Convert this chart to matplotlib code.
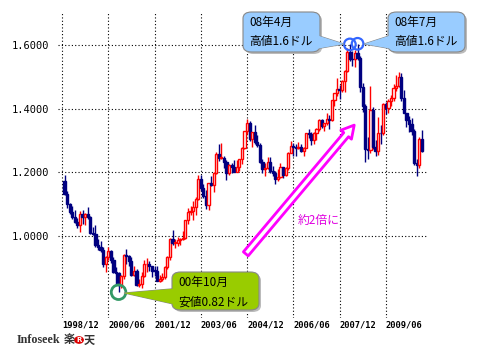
import matplotlib
matplotlib.use("Agg")
import matplotlib.pyplot as plt
from matplotlib.patches import FancyBboxPatch, Polygon, Rectangle
import numpy as np

# monthly EUR/USD, 1999/01 .. 2010/08
opens = [
    1.174, 1.132, 1.099, 1.076, 1.058, 1.043, 1.034, 1.069, 1.058, 1.070, 1.058, 1.010,
    1.006, 0.970, 0.965, 0.957, 0.911, 0.933, 0.952, 0.925, 0.888, 0.883, 0.847, 0.873,
    0.939, 0.938, 0.922, 0.877, 0.889, 0.846, 0.849, 0.875, 0.911, 0.911, 0.904, 0.891,
    0.890, 0.858, 0.866, 0.872, 0.902, 0.934, 0.991, 0.978, 0.979, 0.986, 0.989, 0.993,
    1.049, 1.076, 1.078, 1.091, 1.117, 1.180, 1.150, 1.124, 1.098, 1.165, 1.159, 1.198,
    1.259, 1.245, 1.246, 1.232, 1.198, 1.222, 1.216, 1.202, 1.218, 1.243, 1.277, 1.330,
    1.356, 1.304, 1.326, 1.296, 1.287, 1.232, 1.210, 1.212, 1.233, 1.205, 1.199, 1.179,
    1.184, 1.216, 1.193, 1.212, 1.262, 1.282, 1.279, 1.277, 1.281, 1.268, 1.276, 1.324,
    1.320, 1.302, 1.324, 1.335, 1.366, 1.346, 1.354, 1.368, 1.363, 1.426, 1.449, 1.463,
    1.459, 1.486, 1.520, 1.579, 1.556, 1.555, 1.575, 1.560, 1.467, 1.409, 1.273, 1.269,
    1.397, 1.281, 1.266, 1.325, 1.323, 1.414, 1.403, 1.425, 1.433, 1.464, 1.472, 1.500,
    1.433, 1.386, 1.363, 1.351, 1.330, 1.229, 1.224, 1.305,
]
highs = [
    1.190, 1.142, 1.103, 1.094, 1.082, 1.057, 1.077, 1.083, 1.073, 1.091, 1.062, 1.029,
    1.035, 0.990, 0.984, 0.966, 0.936, 0.966, 0.956, 0.933, 0.903, 0.886, 0.876, 0.944,
    0.959, 0.939, 0.933, 0.904, 0.897, 0.866, 0.887, 0.925, 0.931, 0.921, 0.906, 0.907,
    0.904, 0.877, 0.884, 0.906, 0.938, 0.995, 1.019, 0.989, 0.996, 0.994, 1.015, 1.050,
    1.087, 1.093, 1.109, 1.123, 1.193, 1.193, 1.162, 1.144, 1.167, 1.188, 1.202, 1.263,
    1.290, 1.293, 1.250, 1.240, 1.226, 1.229, 1.239, 1.239, 1.242, 1.279, 1.330, 1.367,
    1.362, 1.327, 1.349, 1.316, 1.293, 1.242, 1.230, 1.249, 1.248, 1.219, 1.203, 1.209,
    1.229, 1.218, 1.217, 1.264, 1.297, 1.293, 1.289, 1.295, 1.289, 1.281, 1.324, 1.336,
    1.328, 1.326, 1.339, 1.368, 1.368, 1.355, 1.385, 1.380, 1.428, 1.450, 1.497, 1.474,
    1.490, 1.522, 1.590, 1.602, 1.581, 1.584, 1.604, 1.567, 1.480, 1.414, 1.310, 1.472,
    1.406, 1.302, 1.374, 1.349, 1.417, 1.421, 1.431, 1.443, 1.478, 1.506, 1.514, 1.512,
    1.458, 1.388, 1.378, 1.370, 1.336, 1.243, 1.310, 1.333,
]
lows = [
    1.128, 1.088, 1.069, 1.053, 1.040, 1.026, 1.012, 1.038, 1.034, 1.053, 1.005, 1.002,
    0.966, 0.957, 0.951, 0.901, 0.888, 0.923, 0.915, 0.882, 0.845, 0.823, 0.836, 0.866,
    0.911, 0.904, 0.874, 0.874, 0.844, 0.840, 0.837, 0.870, 0.888, 0.889, 0.872, 0.873,
    0.857, 0.856, 0.859, 0.865, 0.896, 0.923, 0.972, 0.962, 0.967, 0.970, 0.987, 0.990,
    1.036, 1.067, 1.051, 1.066, 1.114, 1.141, 1.118, 1.084, 1.083, 1.156, 1.138, 1.196,
    1.237, 1.241, 1.213, 1.175, 1.190, 1.198, 1.202, 1.200, 1.204, 1.227, 1.272, 1.319,
    1.298, 1.280, 1.288, 1.280, 1.230, 1.198, 1.187, 1.209, 1.199, 1.187, 1.164, 1.172,
    1.183, 1.183, 1.187, 1.206, 1.261, 1.252, 1.252, 1.274, 1.264, 1.250, 1.275, 1.307,
    1.285, 1.290, 1.303, 1.331, 1.340, 1.330, 1.350, 1.336, 1.362, 1.410, 1.440, 1.432,
    1.452, 1.453, 1.515, 1.549, 1.535, 1.532, 1.554, 1.454, 1.390, 1.233, 1.242, 1.261,
    1.274, 1.250, 1.254, 1.289, 1.317, 1.384, 1.385, 1.407, 1.425, 1.455, 1.468, 1.424,
    1.386, 1.343, 1.327, 1.316, 1.223, 1.188, 1.215, 1.265,
]
closes = [
    1.132, 1.099, 1.076, 1.058, 1.043, 1.034, 1.069, 1.058, 1.070, 1.058, 1.010, 1.006,
    0.970, 0.965, 0.957, 0.911, 0.933, 0.952, 0.925, 0.888, 0.883, 0.847, 0.873, 0.939,
    0.938, 0.922, 0.877, 0.889, 0.846, 0.849, 0.875, 0.911, 0.911, 0.904, 0.891, 0.890,
    0.858, 0.866, 0.872, 0.902, 0.934, 0.991, 0.978, 0.979, 0.986, 0.989, 0.993, 1.049,
    1.076, 1.078, 1.091, 1.117, 1.180, 1.150, 1.124, 1.098, 1.165, 1.159, 1.198, 1.259,
    1.245, 1.246, 1.232, 1.198, 1.222, 1.216, 1.202, 1.218, 1.243, 1.277, 1.330, 1.356,
    1.304, 1.326, 1.296, 1.287, 1.232, 1.210, 1.212, 1.233, 1.205, 1.199, 1.179, 1.184,
    1.216, 1.193, 1.212, 1.262, 1.282, 1.279, 1.277, 1.281, 1.268, 1.276, 1.324, 1.320,
    1.302, 1.324, 1.335, 1.366, 1.346, 1.354, 1.368, 1.363, 1.426, 1.449, 1.463, 1.459,
    1.486, 1.520, 1.579, 1.556, 1.555, 1.575, 1.560, 1.467, 1.409, 1.273, 1.269, 1.397,
    1.281, 1.266, 1.325, 1.323, 1.414, 1.403, 1.425, 1.433, 1.464, 1.472, 1.500, 1.433,
    1.386, 1.363, 1.351, 1.330, 1.229, 1.224, 1.305, 1.268,
]

# x ticks: month index (0 = 1999/01)
xtick_pos = [-1, 17, 35, 53, 71, 89, 107, 125]
xtick_labels = ["1998/12", "2000/06", "2001/12", "2003/06", "2004/12", "2006/06", "2007/12", "2009/06"]
ytick_vals = [1.0, 1.2, 1.4, 1.6]

jp = ["Noto Sans CJK JP", "DejaVu Sans"]
W, H = 478, 356

fig = plt.figure(figsize=(W / 100, H / 100), dpi=100)
ax = fig.add_axes([58 / W, 1 - 318 / H, 370 / W, 306 / H])

def px(x, y):
    # pixel from top-left -> figure fraction
    return (x / W, 1 - y / H)

n = len(closes)
idx = np.arange(n)
bw = 0.85
for i in idx:
    o, h, l, c = opens[i], highs[i], lows[i], closes[i]
    up = c >= o
    col = "#ff0000" if up else "#000080"
    ax.vlines(i, l, h, color=col, lw=1.0, zorder=3)
    lo = min(o, c)
    hgt = max(abs(c - o), 0.002)
    ax.add_patch(Rectangle((i - bw / 2, lo), bw, hgt,
                           facecolor="white" if up else col,
                           edgecolor=col, lw=1.0, zorder=4))

ax.set_xlim(-2.56, 141.4)
ax.set_ylim(0.742, 1.704)

dot = (0, (1, 2))
for xv in xtick_pos:
    ax.axvline(xv, color="black", lw=0.8, ls=dot, zorder=1)
for yv in ytick_vals:
    ax.axhline(yv, color="black", lw=0.8, ls=dot, zorder=1)

for s in ax.spines.values():
    s.set_visible(False)
ax.tick_params(length=0)
ax.set_xticks(xtick_pos)
ax.set_xticklabels(xtick_labels, family="DejaVu Sans Mono", fontsize=6.3,
                   fontweight="bold", ha="left")
ax.set_yticks(ytick_vals)
ax.set_yticklabels([f"{v:.4f}" for v in ytick_vals], family="DejaVu Sans Mono",
                   fontsize=7.5)
ax.tick_params(axis="x", pad=2)
ax.tick_params(axis="y", pad=6)

# circles on highs / low
i_apr08, i_jul08, i_oct00 = 111, 114, 21
ax.scatter([i_apr08, i_jul08], [highs[i_apr08], highs[i_jul08]], s=70,
           facecolors="none", edgecolors="#3366ff", lw=1.6, zorder=6, clip_on=False)
ax.scatter([i_oct00], [lows[i_oct00]], s=110, facecolors="none",
           edgecolors="#339966", lw=2, zorder=6, clip_on=False)

def callout(x0, y0, x1, y1, tail, color, lines, tx, ty):
    shadow = FancyBboxPatch(px(x0 + 2, y1 + 2), (x1 - x0) / W, (y1 - y0) / H,
                            boxstyle="round,pad=0,rounding_size=0.018",
                            transform=fig.transFigure, facecolor="#bbbbbb",
                            edgecolor="none", zorder=7)
    fig.add_artist(shadow)
    tp = Polygon([px(*p) for p in tail], closed=True, transform=fig.transFigure,
                 facecolor=color, edgecolor="#888888", lw=0.8, zorder=8)
    fig.add_artist(tp)
    box = FancyBboxPatch(px(x0, y1), (x1 - x0) / W, (y1 - y0) / H,
                         boxstyle="round,pad=0,rounding_size=0.018",
                         transform=fig.transFigure, facecolor=color,
                         edgecolor="#888888", lw=0.8, zorder=9)
    fig.add_artist(box)
    tp2 = Polygon([px(*p) for p in tail], closed=True, transform=fig.transFigure,
                  facecolor=color, edgecolor="none", zorder=10)
    fig.add_artist(tp2)
    for k, line in enumerate(lines):
        fig.text(*px(tx, ty + k * 20), line, family=jp, fontsize=8.5,
                 va="center", ha="left", zorder=11)

callout(243, 12, 320, 52, [(310, 33), (344, 44), (310, 50)], "#99ccff",
        ["08年4月", "高値1.6ドル"], 249, 22)
callout(388, 12, 465, 52, [(398, 33), (364, 44), (398, 50)], "#99ccff",
        ["08年7月", "高値1.6ドル"], 394, 22)
callout(172, 272, 259, 310, [(182, 288), (124, 293), (182, 306)], "#99cc00",
        ["00年10月", "安値0.82ドル"], 178, 282)

# magenta hollow arrow
fig.add_artist(matplotlib.patches.FancyArrowPatch(
    (244, H - 256), (356, H - 123), transform=None,
    arrowstyle="simple,head_length=9,head_width=10,tail_width=4.5",
    facecolor="white", edgecolor="#ff00ff", lw=2.0, zorder=6))
fig.text(*px(298, 220), "約2倍に", family=jp, fontsize=8.5, color="#e000e0",
         va="center", ha="left")

# logo
fig.text(*px(17, 340), "Infoseek", family="Liberation Serif", fontsize=8.7,
         fontweight="bold", color="#333333", va="center", ha="left")
fig.text(*px(64, 340), "楽", family=jp, fontsize=8, fontweight="bold",
         color="#333333", va="center", ha="left")
fig.add_artist(matplotlib.patches.Circle(px(79, 340), 4.2 / W,
               transform=fig.transFigure, color="#dd0000"))
fig.text(*px(79, 340), "R", family="DejaVu Sans", fontsize=5, fontweight="bold",
         color="white", va="center", ha="center")
fig.text(*px(84, 340), "天", family=jp, fontsize=8, fontweight="bold",
         color="#333333", va="center", ha="left")

fig.savefig("out.png", dpi=100)
